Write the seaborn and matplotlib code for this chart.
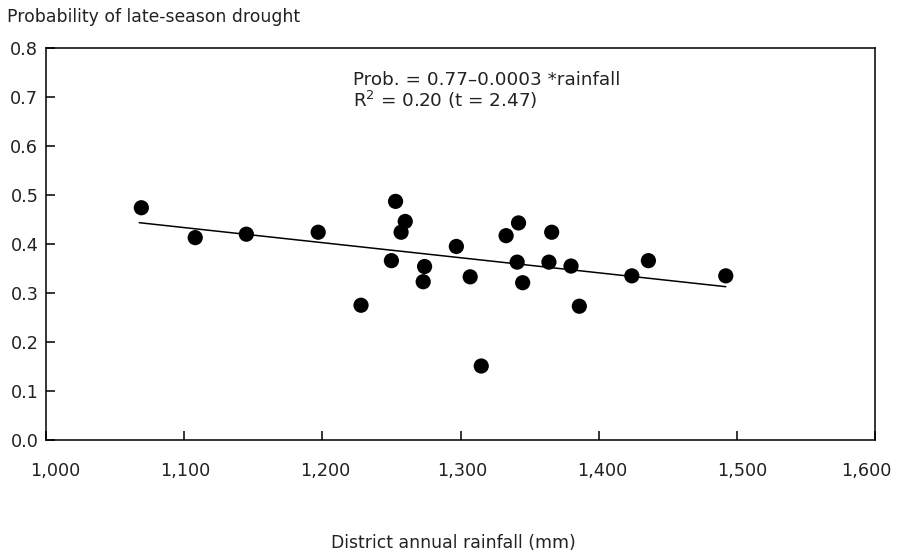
import matplotlib
matplotlib.use("Agg")
import matplotlib.pyplot as plt
import matplotlib.transforms as mtransforms
import seaborn as sns
import numpy as np
import pandas as pd

# Data
rainfall = [1069, 1108, 1145, 1197, 1228, 1250, 1253, 1260, 1257, 1274, 1273,
            1297, 1307, 1315, 1333, 1342, 1341, 1345, 1366, 1364, 1380, 1386,
            1424, 1436, 1492]
probability = [0.474, 0.413, 0.420, 0.424, 0.275, 0.366, 0.487, 0.446, 0.424,
               0.354, 0.323, 0.395, 0.333, 0.151, 0.417, 0.443, 0.363, 0.321,
               0.424, 0.363, 0.355, 0.273, 0.335, 0.366, 0.335]
# Fitted line as drawn in the reference (endpoints)
fit_rainfall = [1067.5, 1492.0]
fit_probability = [0.4435, 0.3129]

x_ticks = [1000, 1100, 1200, 1300, 1400, 1500, 1600]
x_tick_labels = ["1,000", "1,100", "1,200", "1,300", "1,400", "1,500", "1,600"]
y_ticks = [0.0, 0.1, 0.2, 0.3, 0.4, 0.5, 0.6, 0.7, 0.8]
y_tick_labels = ["0.0", "0.1", "0.2", "0.3", "0.4", "0.5", "0.6", "0.7", "0.8"]
equation_line1 = "Prob. = 0.77\u20130.0003 *rainfall"
equation_line2 = r"R$^2$ = 0.20 (t = 2.47)"
x_label = "District annual rainfall (mm)"
y_label = "Probability of late-season drought"

df = pd.DataFrame({"rainfall": rainfall, "prob": probability})
fit_df = pd.DataFrame({"rainfall": fit_rainfall, "prob": fit_probability})

sns.set_theme(style="white")
plt.rcParams["font.family"] = ["DejaVu Sans"]
plt.rcParams["mathtext.fontset"] = "dejavusans"

TXT = "#222222"
fig = plt.figure(figsize=(9, 5.53), dpi=100)
ax = fig.add_axes([46 / 900, 1 - 440 / 553, (875 - 46) / 900, (440 - 48) / 553])

sns.lineplot(data=fit_df, x="rainfall", y="prob", ax=ax, color="black",
             linewidth=1.1, zorder=1)
sns.scatterplot(data=df, x="rainfall", y="prob", ax=ax, s=120, color="black",
                edgecolor="none", zorder=2)

ax.set_xlim(1000, 1600)
ax.set_ylim(0, 0.8)
ax.set_xticks(x_ticks)
ax.set_xticklabels(x_tick_labels)
ax.set_yticks(y_ticks)
ax.set_yticklabels(y_tick_labels)
ax.tick_params(axis="both", direction="in", length=6.5, width=1.1,
               colors="black", labelsize=12.7, labelcolor=TXT)
ax.tick_params(axis="x", pad=16, bottom=True)
ax.tick_params(axis="y", pad=5.5, left=True)
for sp in ax.spines.values():
    sp.set_color("black")
    sp.set_linewidth(1.1)
ax.set_xlabel("")
ax.set_ylabel("")

# small horizontal nudges of x tick labels, as in the reference (pixels)
label_dx = [9, 1, 3, 2, 4, 5, -9]
for lbl, dx in zip(ax.get_xticklabels(), label_dx):
    lbl.set_transform(lbl.get_transform() +
                      mtransforms.ScaledTranslation(dx / 100, 0, fig.dpi_scale_trans))

fig.text(7 / 900, 1 - 21.5 / 553, y_label, fontsize=12.4, color=TXT,
         ha="left", va="baseline")
fig.text(453 / 900, 1 - 548 / 553, x_label,
         fontsize=12.4, color=TXT, ha="center", va="baseline")

ax.text(1222, 0.7245, equation_line1, fontsize=13.2, color=TXT,
        ha="left", va="baseline")
ax.text(1222, 0.680, equation_line2, fontsize=13.2, color=TXT,
        ha="left", va="baseline")

fig.savefig("out.png", dpi=100)
